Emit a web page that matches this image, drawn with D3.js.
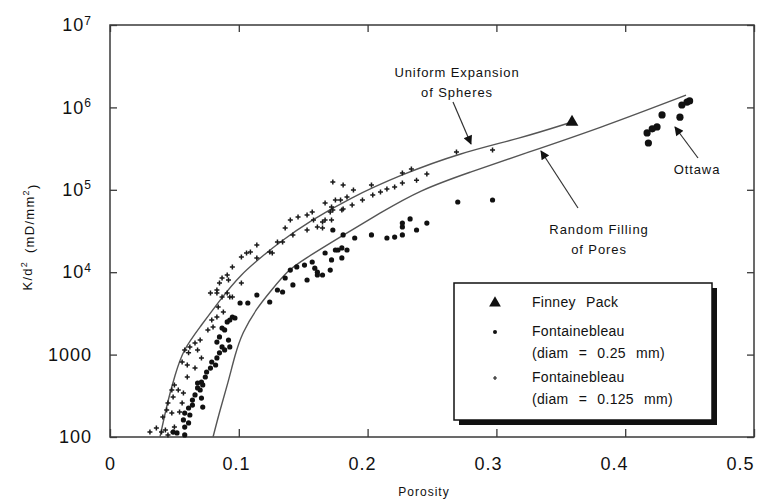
<!DOCTYPE html>
<html>
<head>
<meta charset="utf-8">
<script src="https://cdn.jsdelivr.net/npm/d3@7"></script>
<style>
  html, body { margin: 0; padding: 0; background: #fff; }
  svg { display: block; }
  text { font-family: "Liberation Sans", Arial, Helvetica, sans-serif; fill: #111; }
</style>
</head>
<body>
<svg id="chart" width="770" height="502"></svg>
<script>
// Axis ticks
const porosityTicks = [0, 0.1, 0.2, 0.3, 0.4, 0.5];
const kTicks = [100, 1000, 1e4, 1e5, 1e6, 1e7];

// Model curves: [porosity, K/d^2 (mD/mm^2)]
const uniformExpansion = [
  [0.0388, 100], [0.0450, 281], [0.0505, 565], [0.0567, 1140], [0.0699, 2160],
  [0.0854, 4600], [0.1009, 9250], [0.1203, 16600], [0.1320, 23300], [0.1553, 41800],
  [0.1863, 79400], [0.2252, 151000], [0.2717, 280000], [0.3183, 420000], [0.3587, 665000]
];
const randomFilling = [
  [0.0800, 100], [0.0854, 213], [0.0916, 452], [0.0970, 988], [0.1025, 1830],
  [0.1141, 3680], [0.1242, 5750], [0.1382, 10600], [0.1498, 14100], [0.1786, 26700],
  [0.2096, 52200], [0.2407, 99500], [0.2795, 164000], [0.3183, 264000], [0.3804, 562000],
  [0.4472, 1410000]
];

// Finney pack measurement
const finneyPack = [[0.3587, 665000]];

// Ottawa sand measurements
const ottawa = [
  [0.448, 1160000], [0.444, 1070000], [0.450, 1200000], [0.4286, 810000], [0.4425, 760000],
  [0.4247, 580000], [0.421, 550000], [0.417, 490000], [0.418, 370000]
];

// Fontainebleau sandstone, grain diameter 0.25 mm
const fontainebleau025 = [
  [0.173, 32500], [0.181, 28300], [0.190, 26000], [0.203, 28300], [0.215, 26000],
  [0.221, 26700], [0.227, 28300], [0.227, 35400], [0.227, 39500], [0.233, 44300],
  [0.238, 32500], [0.246, 39500], [0.270, 71100], [0.297, 75200],
  [0.167, 17100], [0.175, 18600], [0.177, 18600], [0.180, 19700], [0.184, 18600],
  [0.172, 14100], [0.180, 14900], [0.157, 13300], [0.151, 12200], [0.145, 11600],
  [0.140, 10600], [0.159, 11200], [0.161, 10000], [0.165, 9250], [0.161, 9250],
  [0.171, 10600], [0.153, 8040], [0.142, 7000], [0.136, 8500], [0.130, 6080],
  [0.134, 5750], [0.114, 5290],
  [0.107, 4230], [0.101, 4230], [0.124, 4350], [0.095, 2860], [0.093, 2630],
  [0.091, 2490], [0.097, 2780], [0.087, 2100], [0.083, 1420], [0.092, 1500],
  [0.093, 1240], [0.087, 1240], [0.089, 1140], [0.085, 1050], [0.083, 910],
  [0.079, 813], [0.082, 748], [0.078, 687], [0.075, 615], [0.074, 535],
  [0.071, 465], [0.068, 452], [0.072, 428], [0.068, 394], [0.070, 372],
  [0.066, 324], [0.071, 297], [0.064, 281], [0.064, 244], [0.072, 231],
  [0.061, 225], [0.058, 195], [0.062, 185], [0.057, 161], [0.061, 148],
  [0.058, 132], [0.049, 115], [0.052, 112], [0.058, 106], [0.085, 1640], [0.089, 1990]
];

// Fontainebleau sandstone, grain diameter 0.125 mm
const fontainebleau0125 = [
  [0.173, 124000], [0.181, 114000], [0.189, 99500], [0.203, 114000], [0.227, 160000],
  [0.234, 179000], [0.246, 156000], [0.238, 131000], [0.227, 121000], [0.221, 108000],
  [0.215, 102000], [0.210, 94000], [0.204, 86400], [0.196, 75200], [0.188, 65400],
  [0.181, 58500], [0.173, 56900], [0.167, 69200], [0.175, 75200], [0.179, 75200],
  [0.184, 81800], [0.167, 43000], [0.172, 43000], [0.269, 288000], [0.297, 304000],
  [0.172, 61800], [0.180, 56900], [0.171, 53800], [0.165, 40600], [0.161, 35400],
  [0.165, 34400], [0.157, 53800], [0.153, 49400], [0.146, 46800], [0.140, 43000],
  [0.158, 43000], [0.153, 32500], [0.142, 28300], [0.136, 34400], [0.130, 23300],
  [0.134, 23300], [0.124, 17600], [0.114, 21400], [0.109, 17600], [0.102, 15300],
  [0.114, 14900], [0.095, 11600], [0.087, 8500], [0.091, 9250], [0.102, 7390],
  [0.078, 5600], [0.083, 6080], [0.093, 5000], [0.087, 5000],
  [0.106, 17100], [0.126, 17100], [0.092, 8040], [0.085, 7390], [0.083, 5600],
  [0.091, 5600], [0.095, 5000], [0.084, 3780], [0.088, 3290], [0.083, 2860],
  [0.079, 2630], [0.080, 2160], [0.076, 1990], [0.070, 1500], [0.066, 1380],
  [0.062, 1240], [0.058, 1140], [0.061, 1050], [0.068, 1140], [0.071, 910],
  [0.056, 813], [0.060, 748], [0.066, 687], [0.060, 535], [0.050, 428],
  [0.048, 372], [0.053, 372], [0.057, 342], [0.049, 306], [0.045, 259],
  [0.056, 259], [0.044, 213], [0.048, 195], [0.054, 201], [0.041, 175],
  [0.043, 122], [0.049, 115], [0.045, 106], [0.040, 115], [0.050, 132],
  [0.031, 115], [0.036, 129]
];

const legendEntries = [
  { symbol: "triangle", lines: ["Finney Pack"] },
  { symbol: "dot", lines: ["Fontainebleau", "(diam = 0.25 mm)"] },
  { symbol: "plus", lines: ["Fontainebleau", "(diam = 0.125 mm)"] }
];

const svg = d3.select("#chart");
const plotLeft = 110, plotRight = 754, plotTop = 25, plotBottom = 437;

const x = d3.scaleLinear().domain([0, 0.5]).range([plotLeft, plotRight]);
const y = d3.scaleLog().domain([100, 1e7]).range([plotBottom, plotTop]);

const frameColor = "#3a3a3a";

// Frame
svg.append("rect")
  .attr("x", plotLeft).attr("y", plotTop)
  .attr("width", plotRight - plotLeft).attr("height", plotBottom - plotTop)
  .attr("fill", "none").attr("stroke", frameColor).attr("stroke-width", 1.5);

// Bottom axis with labels
const xAxis = svg.append("g")
  .attr("transform", `translate(0,${plotBottom})`)
  .call(d3.axisBottom(x).tickValues(porosityTicks)
    .tickSizeInner(-8).tickSizeOuter(0).tickPadding(20)
    .tickFormat(d => d === 0 ? "0" : d3.format(".1f")(d)));
xAxis.select(".domain").remove();
xAxis.selectAll("line").attr("stroke", frameColor).attr("stroke-width", 1.3);
xAxis.selectAll("text")
  .attr("font-size", 18).attr("letter-spacing", "1px")
  .attr("dx", d => -d * 28)
  .style("font-family", "'Liberation Sans', Arial, sans-serif").attr("fill", "#111");

// Top axis ticks
const xTop = svg.append("g")
  .attr("transform", `translate(0,${plotTop})`)
  .call(d3.axisTop(x).tickValues(porosityTicks).tickSizeInner(-7).tickSizeOuter(0).tickFormat(""));
xTop.select(".domain").remove();
xTop.selectAll("line").attr("stroke", frameColor).attr("stroke-width", 1.3);

// Left axis with labels
const yAxis = svg.append("g")
  .attr("transform", `translate(${plotLeft},0)`)
  .call(d3.axisLeft(y).tickValues(kTicks)
    .tickSizeInner(-7).tickSizeOuter(0).tickPadding(18)
    .tickFormat(d => String(d)));
yAxis.select(".domain").remove();
yAxis.selectAll("line").attr("stroke", frameColor).attr("stroke-width", 1.3);
yAxis.selectAll("text")
  .attr("font-size", 18).attr("letter-spacing", "1px")
  .style("font-family", "'Liberation Sans', Arial, sans-serif").attr("fill", "#111")
  .each(function(d) {
    const t = d3.select(this);
    const exp = Math.round(Math.log10(d));
    if (exp >= 4) {
      t.text(null);
      t.append("tspan").text("10");
      t.append("tspan").attr("font-size", 12).attr("dy", "-0.55em").text(exp);
    }
  });

// Right axis ticks
const yRight = svg.append("g")
  .attr("transform", `translate(${plotRight},0)`)
  .call(d3.axisRight(y).tickValues(kTicks).tickSizeInner(-7).tickSizeOuter(0).tickFormat(""));
yRight.select(".domain").remove();
yRight.selectAll("line").attr("stroke", frameColor).attr("stroke-width", 1.3);

// Axis titles
svg.append("text")
  .attr("x", 424).attr("y", 496)
  .attr("text-anchor", "middle")
  .attr("font-size", 12).attr("letter-spacing", "1px")
  .text("Porosity");

const yTitle = svg.append("text")
  .attr("transform", "translate(32,237) rotate(-90)")
  .attr("text-anchor", "middle")
  .attr("font-size", 13).attr("letter-spacing", "1.3px");
yTitle.append("tspan").text("K/d");
yTitle.append("tspan").attr("font-size", 9).attr("dy", "-0.6em").text("2");
yTitle.append("tspan").attr("dy", "0.6em").text("\u2002(mD/mm");
yTitle.append("tspan").attr("font-size", 9).attr("dy", "-0.6em").text("2");
yTitle.append("tspan").attr("dy", "0.6em").text(")");

// Model curves (B-spline through the sampled points)
const line = d3.line()
  .x(d => x(d[0]))
  .y(d => y(d[1]))
  .curve(d3.curveBasis);

const plot = svg.append("g");
plot.selectAll("path.model")
  .data([uniformExpansion, randomFilling])
  .join("path")
  .attr("class", "model")
  .attr("d", line)
  .attr("fill", "none")
  .attr("stroke", "#555")
  .attr("stroke-width", 1.4);

// Fontainebleau 0.125 mm: small plus marks
plot.selectAll("path.f0125")
  .data(fontainebleau0125)
  .join("path")
  .attr("class", "f0125")
  .attr("transform", d => `translate(${x(d[0])},${y(d[1])})`)
  .attr("d", "M-2.5,0H2.5M0,-2.5V2.5")
  .attr("stroke", "#1a1a1a")
  .attr("stroke-width", 1.5);

// Fontainebleau 0.25 mm: dots
plot.selectAll("circle.f025")
  .data(fontainebleau025)
  .join("circle")
  .attr("class", "f025")
  .attr("cx", d => x(d[0]))
  .attr("cy", d => y(d[1]))
  .attr("r", 2.6)
  .attr("fill", "#111");

// Ottawa sand: larger dots
plot.selectAll("circle.ottawa")
  .data(ottawa)
  .join("circle")
  .attr("class", "ottawa")
  .attr("cx", d => x(d[0]))
  .attr("cy", d => y(d[1]))
  .attr("r", 3.6)
  .attr("fill", "#111");

// Finney pack: triangle
const triangle = d3.symbol().type(d3.symbolTriangle).size(70);
plot.selectAll("path.finney")
  .data(finneyPack)
  .join("path")
  .attr("class", "finney")
  .attr("transform", d => `translate(${x(d[0])},${y(d[1])})`)
  .attr("d", triangle)
  .attr("fill", "#111");

// Annotations with arrows
svg.append("defs").append("marker")
  .attr("id", "arrowhead")
  .attr("viewBox", "0 0 10 10")
  .attr("refX", 9).attr("refY", 5)
  .attr("markerWidth", 11).attr("markerHeight", 9)
  .attr("markerUnits", "userSpaceOnUse")
  .attr("orient", "auto")
  .append("path")
  .attr("d", "M0,0L10,5L0,10Z")
  .attr("fill", "#111");

const notes = [
  { lines: ["Uniform Expansion", "of Spheres"], cx: 457, cy: 77, from: [453, 102], to: [471, 144] },
  { lines: ["Random Filling", "of Pores"], cx: 599, cy: 234, from: [578, 208], to: [541, 151] },
  { lines: ["Ottawa"], cx: 697, cy: 174, from: [698, 158], to: [675, 127] }
];

notes.forEach(n => {
  svg.append("line")
    .attr("x1", n.from[0]).attr("y1", n.from[1])
    .attr("x2", n.to[0]).attr("y2", n.to[1])
    .attr("stroke", "#333").attr("stroke-width", 1.2)
    .attr("marker-end", "url(#arrowhead)");
  const t = svg.append("text")
    .attr("text-anchor", "middle")
    .attr("font-size", 13).attr("letter-spacing", "0.9px");
  n.lines.forEach((s, i) => {
    t.append("tspan").attr("x", n.cx).attr("y", n.cy + i * 20).text(s);
  });
});

// Legend
const lg = svg.append("g");
lg.append("rect")
  .attr("x", 459).attr("y", 288).attr("width", 258).attr("height", 137)
  .attr("fill", "#111");
lg.append("rect")
  .attr("x", 454).attr("y", 283).attr("width", 258).attr("height", 137)
  .attr("fill", "#fff").attr("stroke", "#111").attr("stroke-width", 1.5);

const rowY = [307, 336, 382];
legendEntries.forEach((e, i) => {
  const cy = rowY[i] - 4;
  if (e.symbol === "triangle") {
    lg.append("path").attr("transform", `translate(495,${cy})`)
      .attr("d", d3.symbol().type(d3.symbolTriangle).size(60)).attr("fill", "#111");
  } else if (e.symbol === "dot") {
    lg.append("circle").attr("cx", 495).attr("cy", cy).attr("r", 2).attr("fill", "#111");
  } else {
    lg.append("path").attr("transform", `translate(495,${cy})`)
      .attr("d", "M-2,0H2M0,-2V2").attr("stroke", "#222").attr("stroke-width", 1.2);
  }
  e.lines.forEach((s, j) => {
    lg.append("text")
      .attr("x", 532).attr("y", rowY[i] + j * 22)
      .attr("font-size", 14).attr("letter-spacing", "0.3px")
      .attr("word-spacing", "6px")
      .text(s);
  });
});
</script>
</body>
</html>
